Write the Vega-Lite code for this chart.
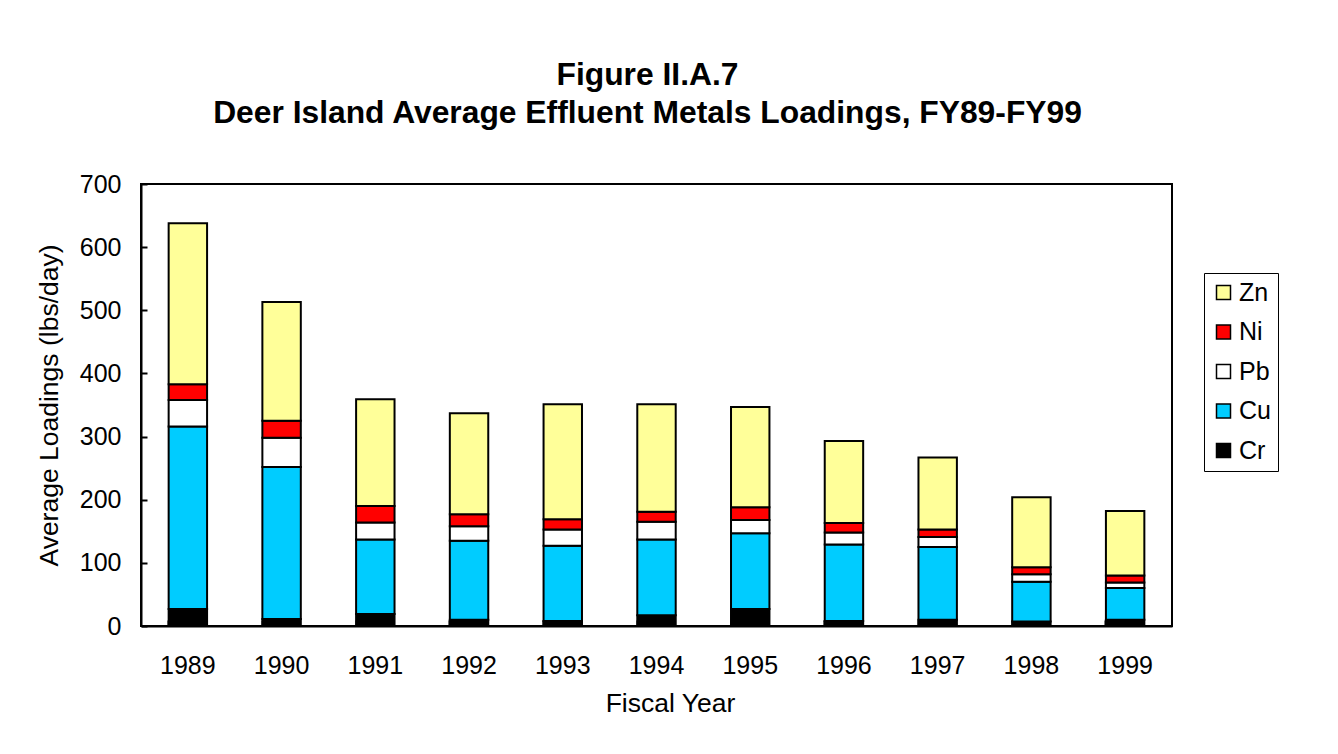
{
  "$schema": "https://vega.github.io/schema/vega-lite/v6.json",
  "autosize": {"type": "none"},
  "width": 1031,
  "height": 442,
  "padding": {"left": 141, "top": 184, "right": 166, "bottom": 128},
  "background": "white",
  "title": {
    "text": ["Figure II.A.7", "Deer Island Average Effluent Metals Loadings, FY89-FY99"],
    "font": "Liberation Sans",
    "fontSize": 31.8,
    "fontWeight": "bold",
    "lineHeight": 38,
    "color": "black",
    "anchor": "middle",
    "dx": -9,
    "offset": 42
  },
  "data": {
    "values": [
      {"year": "1989", "metal": "Cr", "k": 1, "value": 27},
      {"year": "1989", "metal": "Cu", "k": 2, "value": 289},
      {"year": "1989", "metal": "Pb", "k": 3, "value": 42},
      {"year": "1989", "metal": "Ni", "k": 4, "value": 25},
      {"year": "1989", "metal": "Zn", "k": 5, "value": 255},
      {"year": "1990", "metal": "Cr", "k": 1, "value": 11},
      {"year": "1990", "metal": "Cu", "k": 2, "value": 241},
      {"year": "1990", "metal": "Pb", "k": 3, "value": 46},
      {"year": "1990", "metal": "Ni", "k": 4, "value": 27},
      {"year": "1990", "metal": "Zn", "k": 5, "value": 188},
      {"year": "1991", "metal": "Cr", "k": 1, "value": 19},
      {"year": "1991", "metal": "Cu", "k": 2, "value": 118},
      {"year": "1991", "metal": "Pb", "k": 3, "value": 27},
      {"year": "1991", "metal": "Ni", "k": 4, "value": 26},
      {"year": "1991", "metal": "Zn", "k": 5, "value": 169},
      {"year": "1992", "metal": "Cr", "k": 1, "value": 10},
      {"year": "1992", "metal": "Cu", "k": 2, "value": 125},
      {"year": "1992", "metal": "Pb", "k": 3, "value": 23},
      {"year": "1992", "metal": "Ni", "k": 4, "value": 19},
      {"year": "1992", "metal": "Zn", "k": 5, "value": 160},
      {"year": "1993", "metal": "Cr", "k": 1, "value": 8},
      {"year": "1993", "metal": "Cu", "k": 2, "value": 119},
      {"year": "1993", "metal": "Pb", "k": 3, "value": 26},
      {"year": "1993", "metal": "Ni", "k": 4, "value": 16},
      {"year": "1993", "metal": "Zn", "k": 5, "value": 182},
      {"year": "1994", "metal": "Cr", "k": 1, "value": 17},
      {"year": "1994", "metal": "Cu", "k": 2, "value": 120},
      {"year": "1994", "metal": "Pb", "k": 3, "value": 28},
      {"year": "1994", "metal": "Ni", "k": 4, "value": 16},
      {"year": "1994", "metal": "Zn", "k": 5, "value": 170},
      {"year": "1995", "metal": "Cr", "k": 1, "value": 27},
      {"year": "1995", "metal": "Cu", "k": 2, "value": 120},
      {"year": "1995", "metal": "Pb", "k": 3, "value": 21},
      {"year": "1995", "metal": "Ni", "k": 4, "value": 20},
      {"year": "1995", "metal": "Zn", "k": 5, "value": 159},
      {"year": "1996", "metal": "Cr", "k": 1, "value": 8},
      {"year": "1996", "metal": "Cu", "k": 2, "value": 121},
      {"year": "1996", "metal": "Pb", "k": 3, "value": 19},
      {"year": "1996", "metal": "Ni", "k": 4, "value": 15},
      {"year": "1996", "metal": "Zn", "k": 5, "value": 130},
      {"year": "1997", "metal": "Cr", "k": 1, "value": 10},
      {"year": "1997", "metal": "Cu", "k": 2, "value": 115},
      {"year": "1997", "metal": "Pb", "k": 3, "value": 16},
      {"year": "1997", "metal": "Ni", "k": 4, "value": 12},
      {"year": "1997", "metal": "Zn", "k": 5, "value": 114},
      {"year": "1998", "metal": "Cr", "k": 1, "value": 7},
      {"year": "1998", "metal": "Cu", "k": 2, "value": 63},
      {"year": "1998", "metal": "Pb", "k": 3, "value": 12},
      {"year": "1998", "metal": "Ni", "k": 4, "value": 11},
      {"year": "1998", "metal": "Zn", "k": 5, "value": 111},
      {"year": "1999", "metal": "Cr", "k": 1, "value": 10},
      {"year": "1999", "metal": "Cu", "k": 2, "value": 50},
      {"year": "1999", "metal": "Pb", "k": 3, "value": 9},
      {"year": "1999", "metal": "Ni", "k": 4, "value": 11},
      {"year": "1999", "metal": "Zn", "k": 5, "value": 102}
    ]
  },
  "mark": {"type": "bar", "stroke": "black", "strokeWidth": 2, "opacity": 1},
  "encoding": {
    "x": {
      "field": "year",
      "type": "nominal",
      "scale": {"paddingInner": 0.59, "paddingOuter": 0.295},
      "axis": {
        "title": "Fiscal Year",
        "titleX": 529,
        "labelAngle": 0,
        "bandPosition": 0,
        "tickSize": -6,
        "tickWidth": 2,
        "tickColor": "black",
        "domainColor": "black",
        "domainWidth": 2,
        "labelPadding": 33,
        "titlePadding": 12
      }
    },
    "y": {
      "field": "value",
      "type": "quantitative",
      "aggregate": "sum",
      "stack": "zero",
      "scale": {"domain": [0, 700], "nice": false},
      "axis": {
        "title": "Average Loadings (lbs/day)",
        "values": [0, 100, 200, 300, 400, 500, 600, 700],
        "grid": false,
        "tickSize": -6,
        "tickWidth": 2,
        "tickColor": "black",
        "domainColor": "black",
        "domainWidth": 2,
        "labelPadding": 26,
        "titlePadding": 16
      }
    },
    "color": {
      "field": "metal",
      "type": "nominal",
      "scale": {
        "domain": ["Zn", "Ni", "Pb", "Cu", "Cr"],
        "range": ["#FFFF99", "#FF0000", "#FFFFFF", "#00CCFF", "#000000"]
      },
      "legend": {
        "title": null,
        "orient": "none",
        "legendX": 1063,
        "legendY": 89,
        "symbolType": "square",
        "symbolSize": 196,
        "symbolStrokeColor": "black",
        "symbolStrokeWidth": 1.5,
        "symbolOpacity": 1,
        "labelFontSize": 25,
        "labelFont": "Liberation Sans",
        "labelColor": "black",
        "labelOffset": 3,
        "rowPadding": 13.5,
        "padding": 7,
        "strokeColor": "black",
        "fillColor": "white"
      }
    },
    "order": {"field": "k", "type": "quantitative"}
  },
  "config": {
    "font": "Liberation Sans",
    "view": {"stroke": "black", "strokeWidth": 2},
    "axis": {
      "labelFont": "Liberation Sans",
      "titleFont": "Liberation Sans",
      "labelFontSize": 25,
      "titleFontSize": 26.5,
      "titleFontWeight": "normal",
      "labelColor": "black",
      "titleColor": "black"
    }
  }
}
